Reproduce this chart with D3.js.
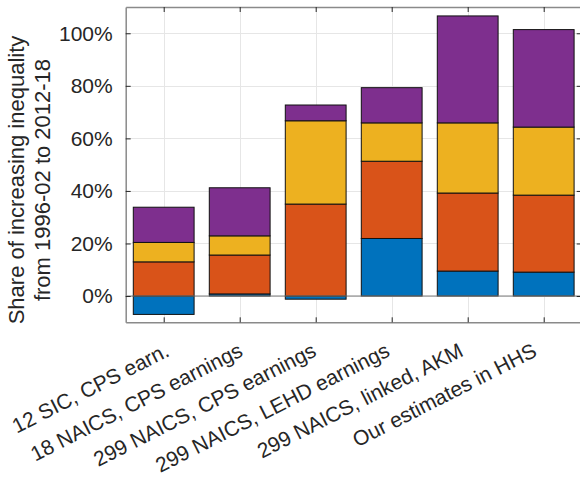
<!DOCTYPE html>
<html>
<head>
<meta charset="utf-8">
<script src="https://cdn.jsdelivr.net/npm/d3@7"></script>
<style>
  html, body { margin: 0; padding: 0; background: #fff; }
  svg { display: block; font-family: "Liberation Sans", Arial, Helvetica, sans-serif; }
</style>
</head>
<body>
<svg id="chart" width="580" height="490"></svg>
<script>
// Decomposition of the rise in inequality, by study / data source (percent)
const categories = [
  "12 SIC, CPS earn.",
  "18 NAICS, CPS earnings",
  "299 NAICS, CPS earnings",
  "299 NAICS, LEHD earnings",
  "299 NAICS, linked, AKM",
  "Our estimates in HHS"
];
const series1 = [-7.0, 0.8, -1.2, 21.9, 9.5, 9.1];
const series2 = [13.0, 14.8, 35.0, 29.4, 29.7, 29.3];
const series3 = [7.4, 7.3, 31.7, 14.6, 26.7, 25.9];
const series4 = [13.4, 18.3, 6.0, 13.4, 40.7, 37.1];
const seriesColors = ["#0072BD", "#D95319", "#EDB120", "#7E2F8E"];
const yTicks = [0, 20, 40, 60, 80, 100];
const yDomain = [-10, 110];
const yLabelLines = ["Share of increasing inequality", "from 1996-02 to 2012-18"];

const svg = d3.select("#chart");
const plotLeft = 125.7, plotTop = 7, plotBottom = 322.3;
const step = 76;
const plotRight = plotLeft + step * categories.length;

const x = d3.scaleLinear().domain([0.5, categories.length + 0.5]).range([plotLeft, plotRight]);
const y = d3.scaleLinear().domain(yDomain).range([plotBottom, plotTop]);
const barW = 0.8 * step;

// grid
const grid = svg.append("g").attr("stroke", "#e6e6e6").attr("stroke-width", 1);
grid.selectAll("line.h").data(yTicks).join("line")
  .attr("x1", plotLeft).attr("x2", plotRight)
  .attr("y1", d => Math.round(y(d)) + 0.5).attr("y2", d => Math.round(y(d)) + 0.5);
grid.selectAll("line.v").data(categories).join("line")
  .attr("x1", (d, i) => Math.round(x(i + 1)) + 0.5).attr("x2", (d, i) => Math.round(x(i + 1)) + 0.5)
  .attr("y1", plotTop).attr("y2", plotBottom);

// stacked bars: positives stack upward from 0, negatives downward
const allSeries = [series1, series2, series3, series4];
const rects = [];
categories.forEach((c, i) => {
  let pos = 0, neg = 0;
  allSeries.forEach((s, k) => {
    const v = s[i];
    let y0, y1;
    if (v >= 0) { y0 = pos; y1 = pos + v; pos = y1; }
    else { y0 = neg + v; y1 = neg; neg = y0; }
    rects.push({ i, k, y0, y1 });
  });
});
svg.append("g").selectAll("rect").data(rects).join("rect")
  .attr("x", d => x(d.i + 1) - barW / 2)
  .attr("width", barW)
  .attr("y", d => y(d.y1))
  .attr("height", d => y(d.y0) - y(d.y1))
  .attr("fill", d => seriesColors[d.k])
  .attr("stroke", "#111")
  .attr("stroke-width", 1);

// baseline at zero
svg.append("line")
  .attr("x1", plotLeft).attr("x2", plotRight)
  .attr("y1", y(0)).attr("y2", y(0))
  .attr("stroke", "#7a7a7a").attr("stroke-width", 1);

// axes (box with inward ticks)
const axisColor = "#262626";
const yAxis = d3.axisLeft(y).tickValues(yTicks).tickFormat(d => d + "%").tickSizeInner(-5).tickSizeOuter(0).tickPadding(13);
const gy = svg.append("g").attr("transform", `translate(${plotLeft},0)`).call(yAxis);
gy.select(".domain").attr("stroke", "#8a8a8a").attr("stroke-width", 1.5);
gy.selectAll(".tick line").attr("stroke", axisColor);
gy.selectAll(".tick text").attr("fill", axisColor).style("font-size", "21px");

const gyR = svg.append("g").attr("transform", `translate(${plotRight},0)`)
  .call(d3.axisRight(y).tickValues(yTicks).tickFormat("").tickSizeInner(-5).tickSizeOuter(0));
gyR.select(".domain").attr("stroke", "#8a8a8a").attr("stroke-width", 1.5);
gyR.selectAll(".tick line").attr("stroke", axisColor);

const xAxis = d3.axisBottom(x).tickValues(d3.range(1, categories.length + 1))
  .tickFormat("").tickSizeInner(-5).tickSizeOuter(0);
const gx = svg.append("g").attr("transform", `translate(0,${plotBottom})`).call(xAxis);
gx.select(".domain").attr("stroke", "#8a8a8a").attr("stroke-width", 1.5);
gx.selectAll(".tick line").attr("stroke", axisColor);

const gxT = svg.append("g").attr("transform", `translate(0,${plotTop})`)
  .call(d3.axisTop(x).tickValues(d3.range(1, categories.length + 1)).tickFormat("").tickSizeInner(-5).tickSizeOuter(0));
gxT.select(".domain").attr("stroke", "#8a8a8a").attr("stroke-width", 1.5);
gxT.selectAll(".tick line").attr("stroke", axisColor);

// rotated category labels, right end tucked under each tick
svg.append("g").selectAll("text").data(categories).join("text")
  .attr("transform", (d, i) => `translate(${x(i + 1) + 7 - 2.5 * i},${plotBottom + 33}) rotate(-27)`)
  .attr("text-anchor", "end")
  .attr("fill", axisColor)
  .style("font-size", "21px")
  .text(d => d);

// y-axis title (two lines)
const yl = svg.append("text")
  .attr("transform", `translate(24,180) rotate(-90)`)
  .attr("text-anchor", "middle")
  .attr("fill", axisColor)
  .style("font-size", "22px");
yLabelLines.forEach((t, i) => {
  yl.append("tspan").attr("x", 0).attr("dy", i === 0 ? 0 : 26).text(t);
});
</script>
</body>
</html>
